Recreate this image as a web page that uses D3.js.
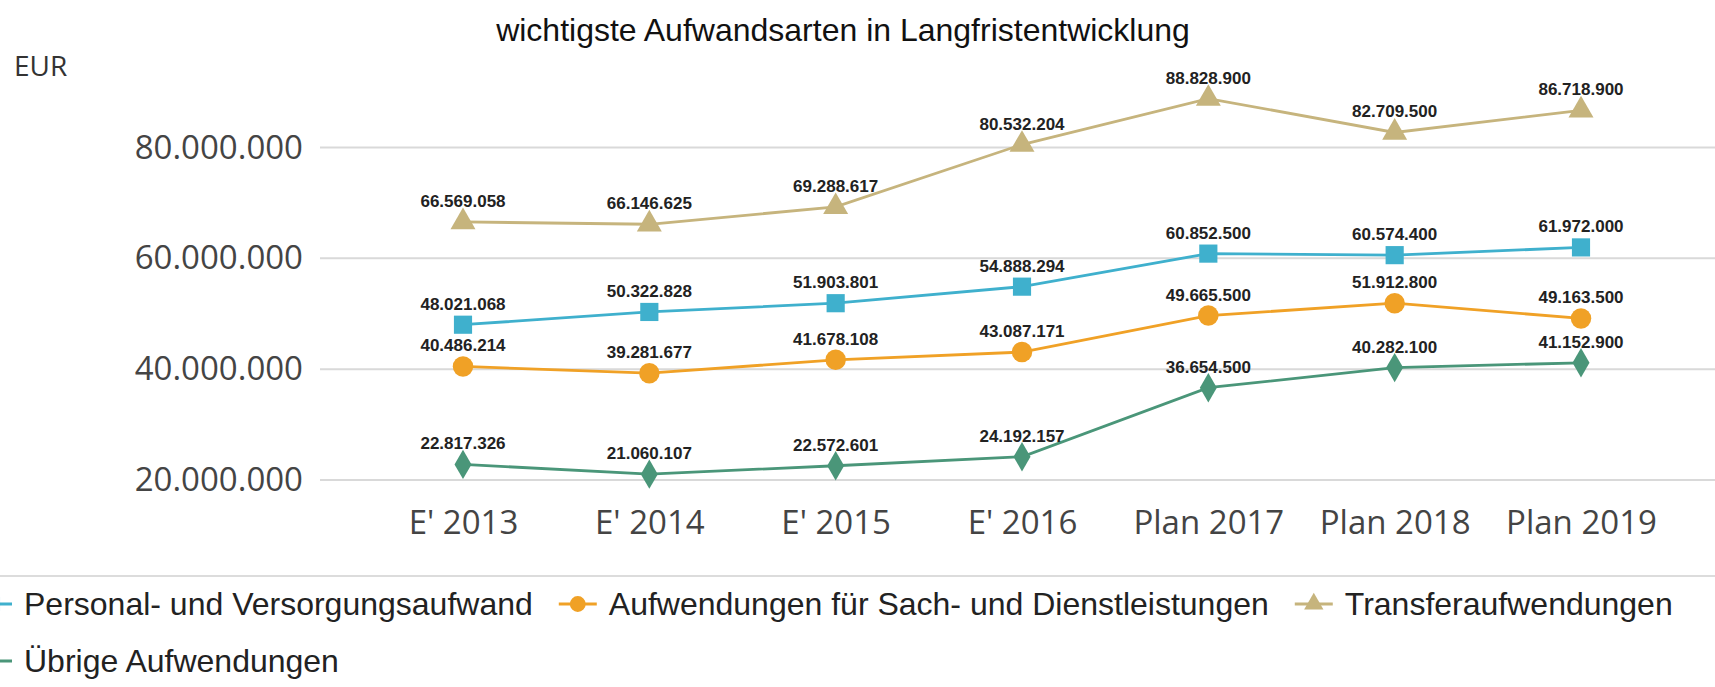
<!DOCTYPE html>
<html>
<head>
<meta charset="utf-8">
<script src="https://cdn.jsdelivr.net/npm/d3@7"></script>
<style>
    html, body { margin: 0; padding: 0; background: #fff; overflow: hidden; }
    text { font-family: "Liberation Sans", Arial, sans-serif; }
</style>
</head>
<body>
<div id="chart"></div>
<script>
const categories = ["E' 2013", "E' 2014", "E' 2015", "E' 2016", 'Plan 2017', 'Plan 2018', 'Plan 2019'];
const personal = [48021068, 50322828, 51903801, 54888294, 60852500, 60574400, 61972000];
const sachDienst = [40486214, 39281677, 41678108, 43087171, 49665500, 51912800, 49163500];
const transfer = [66569058, 66146625, 69288617, 80532204, 88828900, 82709500, 86718900];
const uebrige = [22817326, 21060107, 22572601, 24192157, 36654500, 40282100, 41152900];
const yTicks = [20000000, 40000000, 60000000, 80000000];

const seriesNames = ['Personal- und Versorgungsaufwand', 'Aufwendungen für Sach- und Dienstleistungen', 'Transferaufwendungen', 'Übrige Aufwendungen'];

const series = [
    { name: seriesNames[0], values: personal, color: '#3fb0cd', symbol: d3.symbolSquare, size: 330 },
    { name: seriesNames[1], values: sachDienst, color: '#f0a126', symbol: d3.symbolCircle, size: 330 },
    { name: seriesNames[2], values: transfer, color: '#c6b47d', symbol: d3.symbolTriangle, size: 270 },
    { name: seriesNames[3], values: uebrige, color: '#4a9679', symbol: d3.symbolDiamond, size: 250 }
];

const width = 1715, height = 687;
const locale = d3.formatLocale({ decimal: ',', thousands: '.', grouping: [3], currency: ['', ' €'] });
const fmt = locale.format(',.0f');

const svg = d3.select('#chart').append('svg')
    .attr('width', width)
    .attr('height', height);

// scales
const x = d3.scalePoint().domain(categories).range([463, 1581]);
const y = d3.scaleLinear().domain([20000000, 80000000]).range([480, 147.5]);

// title + unit
svg.append('text')
    .attr('x', 843).attr('y', 30)
    .attr('text-anchor', 'middle').attr('dominant-baseline', 'central')
    .attr('font-size', 32).attr('fill', '#111')
    .text('wichtigste Aufwandsarten in Langfristentwicklung');

svg.append('text')
    .attr('x', 14).attr('y', 65)
    .attr('dominant-baseline', 'central')
    .attr('font-size', 28).attr('fill', '#333')
    .style('font-family', '"Open Sans", sans-serif')
    .text('EUR');

// gridlines
svg.append('g')
    .attr('class', 'grid')
    .selectAll('line')
    .data(yTicks)
    .join('line')
    .attr('x1', 320).attr('x2', width)
    .attr('y1', d => y(d)).attr('y2', d => y(d))
    .attr('stroke', '#d9d9d9').attr('stroke-width', 2);

// y axis labels
const yAxis = svg.append('g')
    .attr('transform', 'translate(303,0)')
    .call(d3.axisLeft(y).tickValues(yTicks).tickFormat(fmt).tickSize(0).tickPadding(0));
yAxis.select('.domain').remove();
yAxis.selectAll('text')
    .style('font-family', '"Open Sans", sans-serif')
    .attr('font-size', 33).attr('fill', '#444');

// x axis labels
const xAxis = svg.append('g')
    .attr('transform', 'translate(0,511)')
    .call(d3.axisBottom(x).tickSize(0).tickPadding(0));
xAxis.select('.domain').remove();
xAxis.selectAll('text')
    .style('font-family', '"Open Sans", sans-serif')
    .attr('font-size', 33).attr('fill', '#444')
    .attr('dy', '0.71em');

// lines, markers, labels
const line = d3.line()
    .x((d, i) => x(categories[i]))
    .y(d => y(d));

const seriesG = svg.append('g').attr('class', 'series')
    .selectAll('g')
    .data(series)
    .join('g');

seriesG.append('path')
    .attr('d', d => line(d.values))
    .attr('fill', 'none')
    .attr('stroke', d => d.color)
    .attr('stroke-width', 2.8);

seriesG.each(function (s) {
    const g = d3.select(this);
    g.selectAll('path.marker')
        .data(s.values)
        .join('path')
        .attr('class', 'marker')
        .attr('transform', (d, i) => `translate(${x(categories[i])},${y(d)})`)
        .attr('d', d3.symbol().type(s.symbol).size(s.size))
        .attr('fill', s.color);
    g.selectAll('text')
        .data(s.values)
        .join('text')
        .attr('x', (d, i) => x(categories[i]))
        .attr('y', d => y(d) - 15)
        .attr('text-anchor', 'middle')
        .attr('font-size', 17)
        .attr('font-weight', 'bold')
        .attr('fill', '#222')
        .text(d => fmt(d));
});

// legend
svg.append('line')
    .attr('x1', 0).attr('x2', width)
    .attr('y1', 576).attr('y2', 576)
    .attr('stroke', '#dcdcdc').attr('stroke-width', 2);

const rows = [[series[0], series[1], series[2]], [series[3]]];
const rowY = [604, 661];

rows.forEach((row, r) => {
    let cursor = -26;
    row.forEach(s => {
        const item = svg.append('g').attr('transform', `translate(${cursor},${rowY[r]})`);
        item.append('line')
            .attr('x1', 0).attr('x2', 38)
            .attr('stroke', s.color).attr('stroke-width', 2.8);
        item.append('path')
            .attr('transform', 'translate(19,0)')
            .attr('d', d3.symbol().type(s.symbol).size(s.size * 0.6))
            .attr('fill', s.color);
        const t = item.append('text')
            .attr('x', 50)
            .attr('dominant-baseline', 'central')
            .attr('font-size', 32)
            .attr('fill', '#222')
            .text(s.name);
        cursor += 50 + t.node().getComputedTextLength() + 26;
    });
});
</script>
</body>
</html>
